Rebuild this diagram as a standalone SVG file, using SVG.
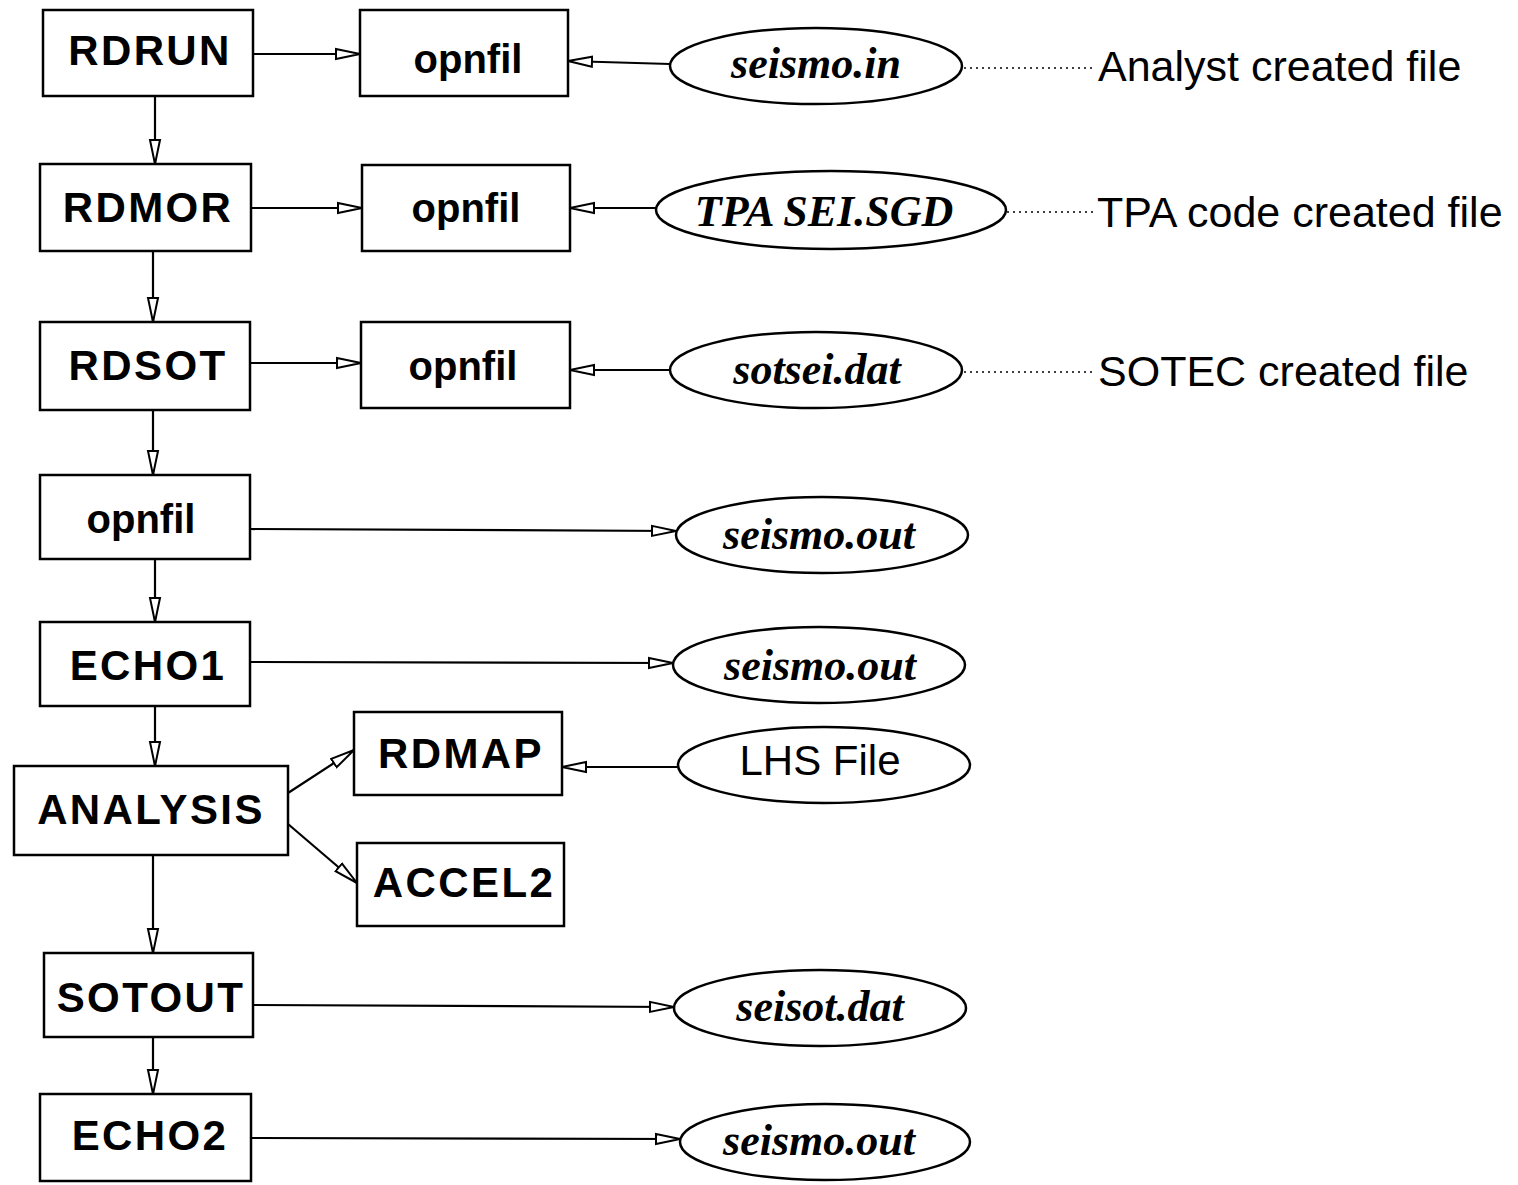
<svg xmlns="http://www.w3.org/2000/svg" width="1518" height="1185" viewBox="0 0 1518 1185">
<style>
.box{fill:#fff;stroke:#000;stroke-width:2.5}
.ell{fill:#fff;stroke:#000;stroke-width:2.5}
.b{font-family:"Liberation Sans",Arial,sans-serif;font-weight:bold;font-size:42px;text-anchor:middle;fill:#000;letter-spacing:2.4px}
.o{font-family:"Liberation Sans",Arial,sans-serif;font-weight:bold;font-size:40px;text-anchor:middle;fill:#000}
.i{font-family:"Liberation Serif","Times New Roman",serif;font-weight:bold;font-style:italic;font-size:44px;text-anchor:middle;fill:#000}
.r{font-family:"Liberation Sans",Arial,sans-serif;font-size:43px;fill:#000}
.rc{font-family:"Liberation Sans",Arial,sans-serif;font-size:42px;fill:#000;text-anchor:middle}
.c line{stroke:#000;stroke-width:2.2;marker-end:url(#ah)}
.d line{stroke:#000;stroke-width:1.5;stroke-dasharray:2 4}
</style>
<defs>
<marker id="ah" markerUnits="userSpaceOnUse" markerWidth="28" markerHeight="14" refX="25" refY="6" orient="auto" viewBox="0 0 28 12">
<path d="M1,1 L25,6 L1,11 Z" fill="#fff" stroke="#000" stroke-width="2"/>
</marker>
</defs>
<rect width="1518" height="1185" fill="#fff"/>
<g class="c">
<line x1="253" y1="54" x2="360" y2="54"/>
<line x1="670" y1="64" x2="568" y2="61"/>
<line x1="155" y1="96" x2="155" y2="164"/>
<line x1="251" y1="208" x2="362" y2="208"/>
<line x1="656" y1="208" x2="570" y2="208"/>
<line x1="153" y1="251" x2="153" y2="322"/>
<line x1="250" y1="363" x2="361" y2="363"/>
<line x1="670" y1="370" x2="570" y2="370"/>
<line x1="153" y1="410" x2="153" y2="475"/>
<line x1="250" y1="529" x2="676" y2="531"/>
<line x1="155" y1="559" x2="155" y2="622"/>
<line x1="250" y1="662" x2="673" y2="663"/>
<line x1="155" y1="706" x2="155" y2="766"/>
<line x1="288" y1="793" x2="354" y2="750"/>
<line x1="288" y1="824" x2="357" y2="883"/>
<line x1="678" y1="767" x2="562" y2="767"/>
<line x1="153" y1="855" x2="153" y2="953"/>
<line x1="253" y1="1005" x2="674" y2="1007"/>
<line x1="153" y1="1037" x2="153" y2="1094"/>
<line x1="251" y1="1138" x2="680" y2="1139"/>
</g>
<g class="d">
<line x1="964" y1="68" x2="1094" y2="68"/>
<line x1="1007" y1="212" x2="1094" y2="212"/>
<line x1="964" y1="372" x2="1094" y2="372"/>
</g>
<g id="rdrun"><rect class="box" x="43" y="10" width="210" height="86"/><text class="b" x="150" y="65">RDRUN</text></g>
<g id="rdmor"><rect class="box" x="40" y="164" width="211" height="87"/><text class="b" x="148" y="222">RDMOR</text></g>
<g id="rdsot"><rect class="box" x="40" y="322" width="210" height="88"/><text class="b" x="148" y="380">RDSOT</text></g>
<g id="opnfil4"><rect class="box" x="40" y="475" width="210" height="84"/><text class="o" x="141" y="533">opnfil</text></g>
<g id="echo1"><rect class="box" x="40" y="622" width="210" height="84"/><text class="b" x="148" y="680">ECHO1</text></g>
<g id="analysis"><rect class="box" x="14" y="766" width="274" height="89"/><text class="b" x="151" y="824">ANALYSIS</text></g>
<g id="sotout"><rect class="box" x="44" y="953" width="209" height="84"/><text class="b" x="151" y="1012">SOTOUT</text></g>
<g id="echo2"><rect class="box" x="40" y="1094" width="211" height="87"/><text class="b" x="150" y="1150">ECHO2</text></g>
<g id="opnfil1"><rect class="box" x="360" y="10" width="208" height="86"/><text class="o" x="468" y="73">opnfil</text></g>
<g id="opnfil2"><rect class="box" x="362" y="165" width="208" height="86"/><text class="o" x="466" y="222">opnfil</text></g>
<g id="opnfil3"><rect class="box" x="361" y="322" width="209" height="86"/><text class="o" x="463" y="380">opnfil</text></g>
<g id="rdmap"><rect class="box" x="354" y="712" width="208" height="83"/><text class="b" x="461" y="768">RDMAP</text></g>
<g id="accel2"><rect class="box" x="357" y="843" width="207" height="83"/><text class="b" x="464" y="897">ACCEL2</text></g>
<g id="seismoin"><ellipse class="ell" cx="816" cy="66" rx="146" ry="38"/><text class="i" x="816" y="78">seismo.in</text></g>
<g id="tpa"><ellipse class="ell" cx="831" cy="210" rx="175" ry="39"/><text class="i" x="824" y="226">TPA SEI.SGD</text></g>
<g id="sotsei"><ellipse class="ell" cx="816" cy="370" rx="146" ry="38"/><text class="i" x="817" y="384">sotsei.dat</text></g>
<g id="seismoout1"><ellipse class="ell" cx="822" cy="535" rx="146" ry="38"/><text class="i" x="819" y="549">seismo.out</text></g>
<g id="seismoout2"><ellipse class="ell" cx="819" cy="665" rx="146" ry="38"/><text class="i" x="820" y="680">seismo.out</text></g>
<g id="lhs"><ellipse class="ell" cx="824" cy="765" rx="146" ry="38"/><text class="rc" x="820" y="775">LHS File</text></g>
<g id="seisot"><ellipse class="ell" cx="820" cy="1008" rx="146" ry="38"/><text class="i" x="820" y="1021">seisot.dat</text></g>
<g id="seismoout3"><ellipse class="ell" cx="825" cy="1142" rx="145" ry="38"/><text class="i" x="819" y="1155">seismo.out</text></g>
<g id="labels">
<text class="r" x="1098" y="81">Analyst created file</text>
<text class="r" x="1097" y="227">TPA code created file</text>
<text class="r" x="1098" y="386">SOTEC created file</text>
</g>
</svg>
